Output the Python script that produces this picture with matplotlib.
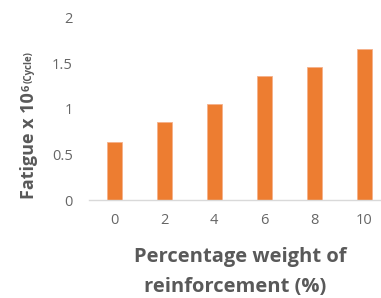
import matplotlib
matplotlib.use('Agg')
from matplotlib import pyplot as plt

# data
weights = ['0', '2', '4', '6', '8', '10']
fatigue = [0.64, 0.857, 1.05, 1.36, 1.46, 1.65]
y_ticks = [0, 0.5, 1, 1.5, 2]
y_tick_labels = ['0', '0.5', '1', '1.5', '2']

plt.rcParams['font.family'] = ['Open Sans', 'DejaVu Sans']
grey = '#595959'
bar_color = '#ED7D31'
W, H = 381, 298

fig = plt.figure(figsize=(W / 100, H / 100), dpi=100)
# axis spans 89..389.5 px horizontally, 17.5..200 px vertically
ax = fig.add_axes([89 / W, (H - 200) / H, 300.5 / W, 182.5 / H])

x = list(range(len(weights)))
ax.bar(x, fatigue, width=0.3, color=bar_color, edgecolor='#F5B08A', linewidth=0.6)

ax.set_xlim(-0.5, len(weights) - 0.5)
ax.set_ylim(0, 2)
ax.set_xticks(x)
ax.set_xticklabels(weights)
ax.set_yticks(y_ticks)
ax.set_yticklabels(y_tick_labels)
ax.tick_params(axis='both', length=0, labelsize=10.5, colors='#666666')
ax.tick_params(axis='x', pad=9.5)
ax.tick_params(axis='y', pad=11.5)

for side in ['top', 'right', 'left']:
    ax.spines[side].set_visible(False)
ax.spines['bottom'].set_color('#D9D9D9')
ax.spines['bottom'].set_linewidth(1.0)

# x label (two lines, bold)
fig.text(240 / W, 1 - 257 / H, 'Percentage weight of', ha='center', va='center',
         fontsize=14.5, fontweight='bold', color=grey)
fig.text(235 / W, 1 - 287 / H, 'reinforcement (%)', ha='center', va='center',
         fontsize=14.5, fontweight='bold', color=grey)

# y label: bold "Fatigue x 10", superscript 6, small "(Cycle)" chained upward
renderer = fig.canvas.get_renderer()
t1 = fig.text(34 / W, 1 - 199 / H, 'Fatigue x 10', rotation=90, rotation_mode='anchor',
              ha='left', va='baseline', fontsize=13, fontweight='bold', color=grey)
top1 = t1.get_window_extent(renderer).y1
t2 = fig.text(29.5 / W, (top1 + 1) / H, '6', rotation=90, rotation_mode='anchor',
              ha='left', va='baseline', fontsize=8, fontweight='bold', color=grey)
top2 = t2.get_window_extent(renderer).y1
fig.text(32 / W, (top2 + 2) / H, '(Cycle)', rotation=90, rotation_mode='anchor',
         ha='left', va='baseline', fontsize=7, fontweight='bold', color=grey)

plt.savefig('out.png', dpi=100)
